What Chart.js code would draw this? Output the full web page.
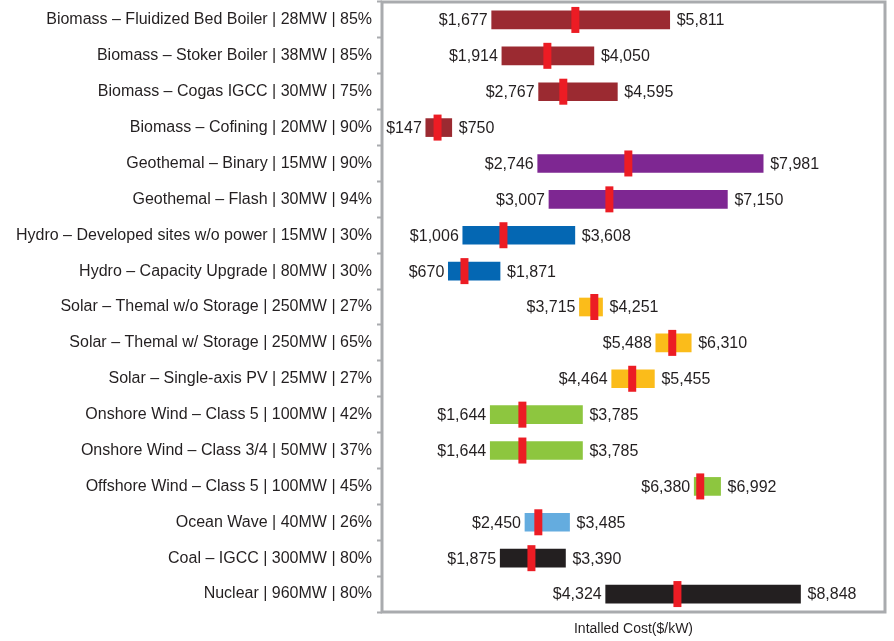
<!DOCTYPE html>
<html>
<head>
<meta charset="utf-8">
<script src="https://cdn.jsdelivr.net/npm/chart.js@4/dist/chart.umd.min.js"></script>
<style>
  body { margin: 0; background: #fff; }
  #chart { display: block; }
</style>
</head>
<body>
<canvas id="chart" width="894" height="641"></canvas>
<script>
const categories = [
  'Biomass – Fluidized Bed Boiler | 28MW | 85%',
  'Biomass – Stoker Boiler | 38MW | 85%',
  'Biomass – Cogas IGCC | 30MW | 75%',
  'Biomass – Cofining | 20MW | 90%',
  'Geothemal – Binary | 15MW | 90%',
  'Geothemal – Flash | 30MW | 94%',
  'Hydro – Developed sites w/o power | 15MW | 30%',
  'Hydro – Capacity Upgrade | 80MW | 30%',
  'Solar – Themal w/o Storage | 250MW | 27%',
  'Solar – Themal w/ Storage | 250MW | 65%',
  'Solar – Single-axis PV | 25MW | 27%',
  'Onshore Wind – Class 5 | 100MW | 42%',
  'Onshore Wind – Class 3/4 | 50MW | 37%',
  'Offshore Wind – Class 5 | 100MW | 45%',
  'Ocean Wave | 40MW | 26%',
  'Coal – IGCC | 300MW | 80%',
  'Nuclear | 960MW | 80%'
];
const minCost = [1677, 1914, 2767, 147, 2746, 3007, 1006, 670, 3715, 5488, 4464, 1644, 1644, 6380, 2450, 1875, 4324];
const maxCost = [5811, 4050, 4595, 750, 7981, 7150, 3608, 1871, 4251, 6310, 5455, 3785, 3785, 6992, 3485, 3390, 8848];
const midCost = [3620, 2970, 3340, 420, 4850, 4410, 1950, 1045, 4060, 5870, 4940, 2390, 2390, 6520, 2760, 2600, 5990];
const barColors = [
  '#9b2a31', '#9b2a31', '#9b2a31', '#9b2a31',
  '#7e2792', '#7e2792',
  '#0467b3', '#0467b3',
  '#fbbc1a', '#fbbc1a', '#fbbc1a',
  '#8dc63f', '#8dc63f', '#8dc63f',
  '#64acdf',
  '#231f20', '#231f20'
];

const textColor = '#231f20';
const frameColor = '#a9abae';

// gray box around the plot area
const framePlugin = {
  id: 'frame',
  afterDraw(chart) {
    const a = chart.chartArea;
    const c = chart.ctx;
    c.save();
    c.strokeStyle = frameColor;
    c.lineWidth = 3;
    c.strokeRect(a.left, a.top, a.right - a.left, a.bottom - a.top);
    c.restore();
  }
};

// $ labels at both ends of each bar
const endLabels = {
  id: 'endLabels',
  afterDatasetsDraw(chart) {
    const meta = chart.getDatasetMeta(1);
    const c = chart.ctx;
    c.save();
    c.font = '16px "Liberation Sans", Arial, sans-serif';
    c.fillStyle = textColor;
    c.textBaseline = 'middle';
    meta.data.forEach(function(bar, i) {
      const lo = Math.min(bar.x, bar.base);
      const hi = Math.max(bar.x, bar.base);
      c.textAlign = 'right';
      c.fillText('$' + minCost[i].toLocaleString('en-US'), lo - 4, bar.y + 1);
      c.textAlign = 'left';
      c.fillText('$' + maxCost[i].toLocaleString('en-US'), hi + 7, bar.y + 1);
    });
    c.restore();
  }
};

const ctx = document.getElementById('chart').getContext('2d');
new Chart(ctx, {
  type: 'bar',
  data: {
    labels: categories,
    datasets: [{
      type: 'scatter',
      label: 'Mid',
      data: categories.map((c, i) => ({ x: midCost[i], y: c })),
      pointStyle: 'line',
      rotation: 90,
      radius: 13,
      hoverRadius: 13,
      borderWidth: 8,
      hoverBorderWidth: 8,
      borderColor: '#ec1c24',
      backgroundColor: '#ec1c24',
      order: 0
    }, {
      label: 'Range',
      data: minCost.map((v, i) => [v, maxCost[i]]),
      backgroundColor: barColors,
      barThickness: 18,
      order: 1
    }]
  },
  options: {
    indexAxis: 'y',
    responsive: false,
    animation: false,
    layout: { autoPadding: false, padding: { top: 2, right: 9, bottom: 0, left: 0 } },
    plugins: {
      legend: { display: false },
      tooltip: { enabled: false }
    },
    scales: {
      x: {
        type: 'linear',
        min: -870,
        max: 10810,
        grid: { display: false },
        border: { display: false },
        ticks: { display: false },
        title: {
          display: true,
          text: 'Intalled Cost($/kW)',
          color: textColor,
          font: { family: '"Liberation Sans", Arial, sans-serif', size: 14 },
          padding: { top: 4, bottom: 3 }
        },
        afterFit(scale) {
          scale.height = 29;
          scale.paddingLeft = 0;
          scale.paddingRight = 0;
        }
      },
      y: {
        type: 'category',
        labels: categories,
        offset: true,
        grid: {
          offset: true,
          drawOnChartArea: false,
          tickLength: 5,
          tickWidth: 2,
          tickColor: frameColor,
          color: frameColor
        },
        border: { display: false },
        ticks: {
          color: textColor,
          padding: 5,
          font: { family: '"Liberation Sans", Arial, sans-serif', size: 16 }
        },
        afterFit(scale) {
          scale.width = 382;
          scale.paddingTop = 0;
          scale.paddingBottom = 0;
        }
      }
    }
  },
  plugins: [framePlugin, endLabels]
});
</script>
</body>
</html>
